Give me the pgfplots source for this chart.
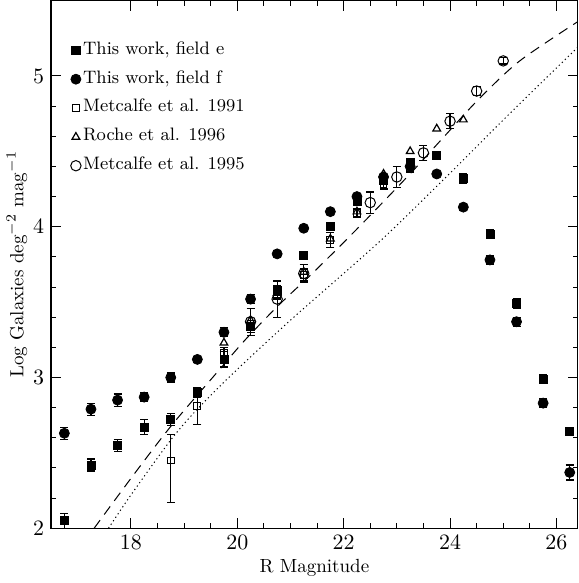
\documentclass[border=0pt]{standalone}
\usepackage{pgfplots}
\pgfplotsset{compat=1.18}

\begin{document}
\begin{tikzpicture}
\begin{axis}[
    scale only axis,
    width=263pt, height=263.5pt,
    xmin=16.5, xmax=26.4,
    ymin=2, ymax=5.5,
    xtick={18,20,22,24,26},
    ytick={2,3,4,5},
    minor x tick num=3,
    minor y tick num=4,
    tick align=inside,
    major tick length=5pt,
    minor tick length=2.5pt,
    xtick pos=both, ytick pos=both,
    tick label style={font=\fontsize{10.5}{12}\selectfont},
    xlabel={R Magnitude},
    ylabel={Log Galaxies deg$^{-2}$ mag$^{-1}$},
    label style={font=\fontsize{9.5}{11}\selectfont},
    xlabel style={yshift=2pt},
    ylabel style={yshift=-4pt},
    axis line style={line width=0.6pt},
    every tick/.style={line width=0.5pt, black},
    legend cell align=left,
    legend style={draw=none, fill=none, at={(0.035,0.935)}, anchor=north west,
        font=\fontsize{9}{10}\selectfont, row sep=2.5pt, inner sep=0pt,
        nodes={inner sep=1pt}},
    legend image code/.code={\path[draw=none, fill=none] (0pt,-3pt) rectangle (5pt,7pt);
        \draw[#1] plot coordinates {(3pt,-0.5pt)};},
    error bars/error bar style={line width=0.6pt},
    error bars/error mark options={rotate=90, mark size=2pt, line width=0.6pt},
]
% model curves
\addplot[black, line width=0.5pt, dash pattern=on 5pt off 3.5pt, smooth, forget plot] coordinates {
    (17.31,2.00) (18.00,2.33) (18.76,2.68) (19.66,3.05) (20.15,3.25) (20.78,3.48)
    (21.41,3.69) (22.04,3.91) (22.54,4.09) (23.30,4.37) (23.92,4.61) (24.55,4.85)
    (25.31,5.10) (26.40,5.36)
};
\addplot[black, line width=0.5pt, dash pattern=on 0.6pt off 1.5pt, smooth, forget plot] coordinates {
    (17.58,2.00) (18.00,2.22) (18.76,2.59) (19.25,2.79) (19.90,3.02) (21.00,3.38)
    (22.67,3.90) (23.87,4.31) (25.12,4.75) (26.40,5.19)
};

% This work, field e
\addplot[only marks, mark=square*, mark size=2pt, black,
    error bars/.cd, y dir=both, y explicit] coordinates {
    (16.75,2.05) +- (0,0.05)
    (17.25,2.42) +- (0,0.04)
    (17.75,2.55) +- (0,0.04)
    (18.25,2.67) +- (0,0.05)
    (18.75,2.72) +- (0,0.04)
    (19.25,2.90) +- (0,0.03)
    (19.75,3.12) +- (0,0.05)
    (20.25,3.34) +- (0,0.04)
    (20.75,3.58) +- (0,0.03)
    (21.25,3.81) +- (0,0.02)
    (21.75,4.00) +- (0,0.02)
    (22.25,4.17) +- (0,0.02)
    (22.75,4.31) +- (0,0.02)
    (23.25,4.43) +- (0,0.02)
    (23.75,4.47) +- (0,0.02)
    (24.25,4.32) +- (0,0.03)
    (24.75,3.95) +- (0,0.03)
    (25.25,3.49) +- (0,0.03)
    (25.75,2.99) +- (0,0.03)
    (26.25,2.64) +- (0,0.02)
};
\addlegendentry{This work, field e}

% This work, field f
\addplot[only marks, mark=*, mark size=2.5pt, black,
    error bars/.cd, y dir=both, y explicit] coordinates {
    (16.75,2.63) +- (0,0.04)
    (17.25,2.79) +- (0,0.04)
    (17.75,2.85) +- (0,0.04)
    (18.25,2.87) +- (0,0.03)
    (18.75,3.00) +- (0,0.03)
    (19.25,3.12) +- (0,0.02)
    (19.75,3.30) +- (0,0.03)
    (20.25,3.52) +- (0,0.03)
    (20.75,3.82) +- (0,0.02)
    (21.25,3.99) +- (0,0.01)
    (21.75,4.10) +- (0,0.01)
    (22.25,4.20) +- (0,0.01)
    (22.75,4.33) +- (0,0.01)
    (23.25,4.40) +- (0,0.01)
    (23.75,4.35) +- (0,0.01)
    (24.25,4.13) +- (0,0.02)
    (24.75,3.78) +- (0,0.03)
    (25.25,3.37) +- (0,0.03)
    (25.75,2.83) +- (0,0.03)
    (26.25,2.37) +- (0,0.05)
};
\addlegendentry{This work, field f}

% Metcalfe et al. 1991
\addplot[only marks, mark=square, mark size=1.7pt, black, mark options={line width=0.5pt},
    error bars/.cd, y dir=both, y explicit] coordinates {
    (18.75,2.45) += (0,0.17) -= (0,0.28)
    (19.25,2.81) += (0,0.10) -= (0,0.12)
    (19.75,3.16) +- (0,0.04)
    (20.25,3.34) +- (0,0.04)
    (20.75,3.55) +- (0,0.03)
    (21.25,3.68) +- (0,0.04)
    (21.75,3.91) +- (0,0.05)
    (22.25,4.09) +- (0,0.03)
    (22.75,4.28) +- (0,0.03)
    (23.25,4.39) +- (0,0.03)
};
\addlegendentry{Metcalfe et al. 1991}

% Roche et al. 1996
\addplot[only marks, mark=triangle, mark size=2.2pt, black, mark options={line width=0.6pt}] coordinates {
    (19.75,3.23) (20.25,3.38) (20.75,3.56) (21.25,3.70) (21.75,3.92)
    (22.25,4.10) (22.75,4.35) (23.25,4.50) (23.75,4.65) (24.25,4.71)
};
\addlegendentry{Roche et al. 1996}

% Metcalfe et al. 1995
\addplot[only marks, mark=o, mark size=2.6pt, black, mark options={line width=0.5pt},
    error bars/.cd, y dir=both, y explicit] coordinates {
    (20.25,3.37) +- (0,0.09)
    (20.75,3.52) +- (0,0.12)
    (21.25,3.69) +- (0,0.06)
    (22.50,4.16) +- (0,0.07)
    (23.00,4.33) +- (0,0.07)
    (23.50,4.49) +- (0,0.05)
    (24.00,4.70) +- (0,0.05)
    (24.50,4.90) +- (0,0.03)
    (25.00,5.10) +- (0,0.02)
};
\addlegendentry{Metcalfe et al. 1995}
\end{axis}
\end{tikzpicture}
\end{document}
